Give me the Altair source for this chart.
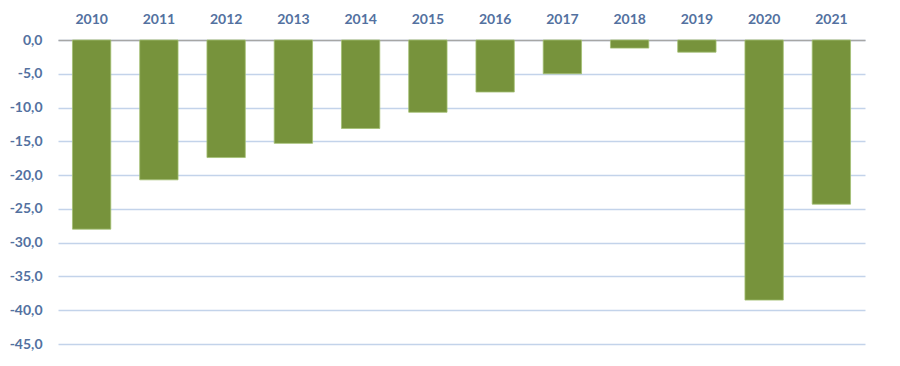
import altair as alt
import pandas as pd

years = ["2010", "2011", "2012", "2013", "2014", "2015", "2016", "2017", "2018", "2019", "2020", "2021"]
values = [-28.0, -20.7, -17.4, -15.3, -13.1, -10.7, -7.7, -5.0, -1.2, -1.8, -38.5, -24.3]
y_ticks = [0, -5, -10, -15, -20, -25, -30, -35, -40, -45]

df = pd.DataFrame({"year": years, "value": values})

label_color = "#5371a0"

chart = alt.Chart(df).mark_bar(
    color="#77933c", stroke="#a3bf72", strokeWidth=0.8
).encode(
    x=alt.X("year:N", sort=years,
            scale=alt.Scale(paddingInner=0.43, paddingOuter=0.215),
            axis=alt.Axis(orient="top", title=None, labelAngle=0, ticks=False,
                          domain=True, domainColor="#a6a6a6", domainWidth=1.5,
                          labelPadding=14, labelFont="Lato", labelFontSize=14,
                          labelFontWeight="bold", labelColor=label_color)),
    y=alt.Y("value:Q",
            scale=alt.Scale(domain=[-45, 0], nice=False),
            axis=alt.Axis(title=None, values=y_ticks, ticks=False, domain=False,
                          labelExpr="(datum.value < 0 ? '-' : '') + replace(format(abs(datum.value), '.1f'), '.', ',')",
                          labelFont="Lato", labelFontSize=14, labelFontWeight="bold",
                          labelColor=label_color, labelPadding=16,
                          grid=True, gridColor="#c3d3ea", gridWidth=1.3)),
).properties(
    width=807, height=304,
    autosize=alt.AutoSizeParams(type="none"),
    padding={"left": 50, "top": 32, "right": 10, "bottom": 10},
).configure_view(strokeWidth=0)

chart.save("out.html", embed_options={"renderer": "svg", "actions": False})
